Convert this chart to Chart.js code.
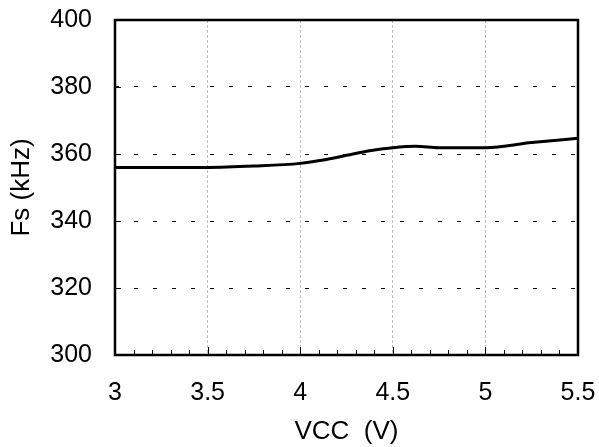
<!DOCTYPE html>
<html>
<head>
<meta charset="utf-8">
<script src="https://cdn.jsdelivr.net/npm/chart.js@4/dist/chart.umd.min.js"></script>
<style>
  html, body { margin: 0; padding: 0; background: #fff; }
  #wrap { width: 599px; height: 447px; }
</style>
</head>
<body>
<div id="wrap"><canvas id="chart"></canvas></div>
<script>
// Fs vs VCC
const vcc = [3, 3.25, 3.5, 3.75, 4, 4.125, 4.25, 4.375, 4.5, 4.625, 4.75, 5, 5.25, 5.5];
const fsKHz = [356, 356, 356, 356.4, 357.2, 358.2, 359.6, 361, 361.9, 362.3, 361.9, 361.9, 363.4, 364.7];
const xMin = 3, xMax = 5.5, xMinorStep = 0.1, xMajorStep = 0.5;
const yMin = 300, yMax = 400, yStep = 20;

const FONT = 'Liberation Sans, Arial, sans-serif';

const isMajor = (v) => Math.abs(v / xMajorStep - Math.round(v / xMajorStep)) < 1e-6;

// frame box + inward tick marks, like the original plot
const framePlugin = {
  id: 'frame',
  afterDraw(chart) {
    const { ctx, chartArea: a, scales } = chart;
    ctx.save();
    ctx.strokeStyle = '#000';
    ctx.lineWidth = 1;
    ctx.beginPath();
    scales.x.ticks.forEach(t => {
      const px = Math.round(scales.x.getPixelForValue(t.value)) + 0.5;
      const len = isMajor(t.value) ? 8 : 5;
      ctx.moveTo(px, a.bottom);
      ctx.lineTo(px, a.bottom - len);
    });
    scales.y.ticks.forEach(t => {
      const py = Math.round(scales.y.getPixelForValue(t.value)) + 0.5;
      ctx.moveTo(a.left, py);
      ctx.lineTo(a.left + 6, py);
    });
    ctx.stroke();
    ctx.lineWidth = 2.5;
    ctx.strokeRect(a.left, a.top, a.right - a.left, a.bottom - a.top);
    ctx.restore();
  }
};

new Chart(document.getElementById('chart'), {
  type: 'line',
  data: {
    datasets: [{
      data: vcc.map((v, i) => ({ x: v, y: fsKHz[i] })),
      borderColor: '#000',
      borderWidth: 3,
      pointRadius: 0,
      cubicInterpolationMode: 'monotone',
      fill: false
    }]
  },
  options: {
    responsive: true,
    maintainAspectRatio: false,
    animation: false,
    layout: { padding: { top: 20, right: 21, left: 0, bottom: 0 } },
    plugins: { legend: { display: false }, tooltip: { enabled: false } },
    scales: {
      x: {
        type: 'linear',
        min: xMin,
        max: xMax,
        afterBuildTicks(scale) {
          const ticks = [];
          for (let i = 0; i <= Math.round((xMax - xMin) / xMinorStep); i++) {
            ticks.push({ value: Math.round((xMin + i * xMinorStep) * 10) / 10 });
          }
          scale.ticks = ticks;
        },
        afterFit(scale) {
          scale.height = 92;
          scale.paddingLeft = 0;
          scale.paddingRight = 0;
        },
        ticks: {
          autoSkip: false,
          maxRotation: 0,
          padding: 23,
          color: '#000',
          font: { family: FONT, size: 25 },
          callback: (v) => isMajor(v) ? String(v) : ''
        },
        grid: {
          drawTicks: false,
          lineWidth: 1,
          color: (ctx) => (ctx.tick && isMajor(ctx.tick.value)) ? '#bdbdbd' : 'rgba(0,0,0,0)'
        },
        border: { display: false, dash: [3, 2] },
        title: {
          display: true,
          text: 'VCC  (V)',
          color: '#000',
          font: { family: FONT, size: 26 },
          padding: { top: 0, bottom: 0 }
        }
      },
      y: {
        min: yMin,
        max: yMax,
        afterFit(scale) {
          scale.width = 115;
          scale.paddingTop = 0;
          scale.paddingBottom = 0;
        },
        ticks: {
          stepSize: yStep,
          padding: 23,
          color: '#000',
          font: { family: FONT, size: 25 }
        },
        grid: {
          drawTicks: false,
          lineWidth: 1,
          color: '#000'
        },
        border: { display: false, dash: [4, 15] },
        title: {
          display: true,
          text: 'Fs (kHz)',
          color: '#000',
          font: { family: FONT, size: 26 },
          padding: { top: 6, bottom: 0 }
        }
      }
    }
  },
  plugins: [framePlugin]
});
</script>
</body>
</html>
